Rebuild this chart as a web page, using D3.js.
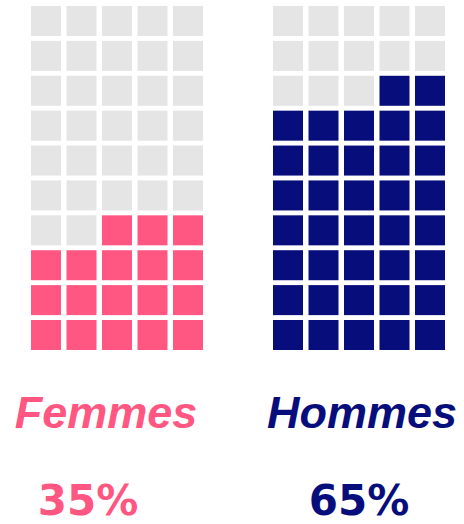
<!DOCTYPE html>
<html>
<head>
<meta charset="utf-8">
<script src="https://cdn.jsdelivr.net/npm/d3@7"></script>
<style>
  html, body { margin: 0; padding: 0; background: #fff; }
  svg { display: block; }
</style>
</head>
<body>
<svg id="chart" width="464" height="524"></svg>
<script>
// data
const groups = ['Femmes', 'Hommes'];
const percents = [35, 65];
const filledCells = [18, 37];
const colors = ['#ff5781', '#070e7b'];

const nCols = 5;
const nRows = 10;
const emptyColor = '#e5e5e5';

const svg = d3.select('#chart');

// left edge of each waffle
const gridX = d3.scaleOrdinal().domain(groups).range([31, 273]);

const col = d3.scaleBand()
    .domain(d3.range(nCols))
    .range([0, 172])
    .paddingInner(5.5 / 35.5);

const row = d3.scaleBand()
    .domain(d3.range(nRows))
    .range([6, 350])
    .paddingInner(0.14);

groups.forEach((name, gi) => {
    const cells = d3.range(nCols * nRows).map(i => ({
        r: Math.floor(i / nCols),
        c: i % nCols,
        // cells fill from the bottom-right corner upward
        on: i >= nCols * nRows - filledCells[gi]
    }));

    const g = svg.append('g')
        .attr('transform', `translate(${gridX(name)},0)`);

    g.selectAll('rect')
        .data(cells)
        .enter()
        .append('rect')
        .attr('x', d => col(d.c))
        .attr('y', d => row(d.r))
        .attr('width', col.bandwidth())
        .attr('height', row.bandwidth())
        .attr('fill', d => d.on ? colors[gi] : emptyColor);
});

// labels
const labelX = d3.scaleOrdinal().domain(groups).range([106, 362]);
const pctX = d3.scaleOrdinal().domain(groups).range([88, 359]);

svg.selectAll('text.name')
    .data(groups)
    .enter()
    .append('text')
    .attr('class', 'name')
    .attr('x', d => labelX(d))
    .attr('y', 428)
    .attr('text-anchor', 'middle')
    .attr('font-family', '"Liberation Sans", Arial, sans-serif')
    .attr('font-weight', 'bold')
    .attr('font-style', 'italic')
    .attr('font-size', 45)
    .attr('fill', (d, i) => colors[i])
    .text(d => d);

// percentages sit right at the bottom edge
svg.selectAll('text.pct')
    .data(groups)
    .enter()
    .append('text')
    .attr('class', 'pct')
    .attr('x', d => pctX(d))
    .attr('y', 515)
    .attr('text-anchor', 'middle')
    .attr('font-family', '"DejaVu Sans", sans-serif')
    .attr('font-weight', 'bold')
    .attr('font-size', 42)
    .attr('fill', (d, i) => colors[i])
    .text((d, i) => percents[i] + '%');
</script>
</body>
</html>
